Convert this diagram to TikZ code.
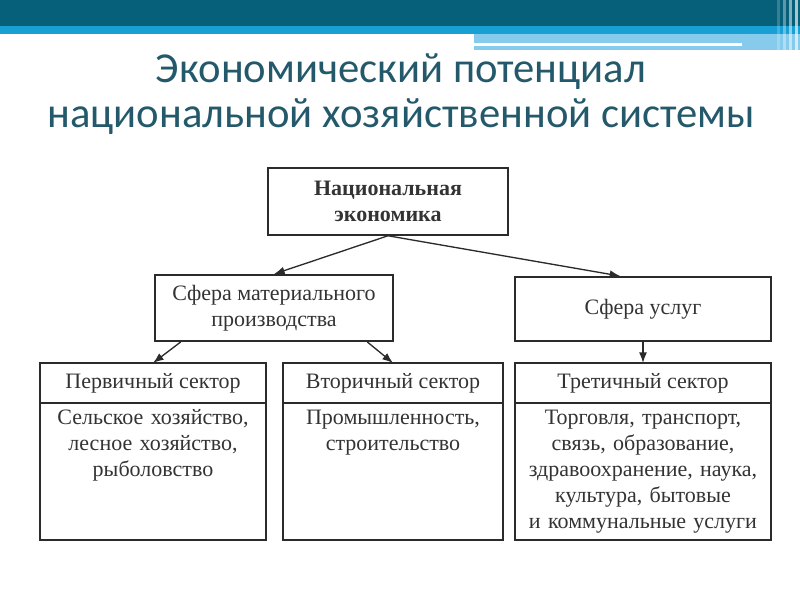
\documentclass[tikz,border=0pt]{standalone}
\usepackage{fontspec}
\setmainfont{Liberation Serif}
\newfontfamily\titlefont{Carlito}
\usepackage{xcolor}
\usetikzlibrary{arrows.meta, positioning, calc}

\definecolor{barteal}{HTML}{07607A}
\definecolor{barblue}{HTML}{18A0D5}
\definecolor{barlight}{HTML}{86CBEB}
\definecolor{titleteal}{HTML}{24596B}
\definecolor{boxline}{HTML}{2B2B2B}
\definecolor{boxtext}{HTML}{333333}

\begin{document}
\begin{tikzpicture}[
  x=0.75pt, y=-0.75pt,
  boxfont/.style = {font=\fontsize{16.5}{19.5}\selectfont, text=boxtext},
  sphere/.style  = {rectangle, draw=boxline, line width=1.4pt, boxfont,
                    align=center, inner sep=3pt},
  sechead/.style = {rectangle, draw=boxline, line width=1.4pt, boxfont,
                    align=center, minimum height=30pt, outer sep=0pt, anchor=north},
  secbody/.style = {rectangle, draw=boxline, line width=1.4pt, boxfont,
                    align=center, inner sep=4pt, text height=12pt,
                    text depth=82.75pt, outer sep=0pt},
  arr/.style     = {-{Latex[length=8pt,width=6pt]}, line width=1pt, boxline}
]
\useasboundingbox (0,0) rectangle (800,600);

% ── Slide header bar ─────────────────────────────────────────────────────────
\fill[barteal]  (0,0)   rectangle (800,26);
\fill[barblue]  (0,26)  rectangle (800,34);
\fill[barlight] (474,34) rectangle (800,50);
\fill[white]    (474,43) rectangle (742,46);
\foreach \xx/\op in {777/0.2, 783/0.35, 789/0.5, 795/0.65}
  \fill[white, opacity=\op] (\xx,0) rectangle ++(3,53);

% ── Title ────────────────────────────────────────────────────────────────────
\node[font=\titlefont\fontsize{32}{34}\selectfont, text=titleteal, align=center]
     (title) at (401,94) {Экономический потенциал\\национальной хозяйственной системы};

% ── Top level ────────────────────────────────────────────────────────────────
\node[sphere, minimum width=180pt, minimum height=50pt, font=\fontsize{16.5}{19.5}\selectfont\bfseries]
     (nat) at (388,201.5) {Национальная\\экономика};

% ── Spheres ──────────────────────────────────────────────────────────────────
\node[sphere, minimum width=178.5pt, minimum height=49.5pt]
     (mat) at (274,308) {Сфера материального\\производства};
\node[sphere, minimum width=192pt, minimum height=48pt]
     (usl) at (643,309) {Сфера услуг};

% ── Sectors ──────────────────────────────────────────────────────────────────
\node[sechead, minimum width=169.5pt] (prim) at (153,363) {Первичный сектор};
\node[secbody, below=0pt of prim, text width=161.5pt] (primb)
     {Сельское хозяйство,\\лесное хозяйство,\\рыболовство};

\node[sechead, minimum width=165pt] (sec) at (393,363) {Вторичный сектор};
\node[secbody, below=0pt of sec, text width=157pt] (secb)
     {Промышленность,\\строительство};

\node[sechead, minimum width=192pt] (ter) at (643,363) {Третичный сектор};
\node[secbody, below=0pt of ter, text width=184pt] (terb)
     {Торговля, транспорт,\\связь, образование,\\здравоохранение, наука,\\культура, бытовые\\и коммунальные услуги};

% ── Arrows ───────────────────────────────────────────────────────────────────
\draw[arr] (nat.south) -- (mat.north);
\draw[arr] (nat.south) -- ($(usl.north)+(-17pt,0)$);
\draw[arr] ($(mat.south west)+(20pt,0)$) -- (prim.north);
\draw[arr] ($(mat.south east)+(-20pt,0)$) -- (sec.north);
\draw[arr] (usl.south) -- (ter.north);
\end{tikzpicture}
\end{document}
